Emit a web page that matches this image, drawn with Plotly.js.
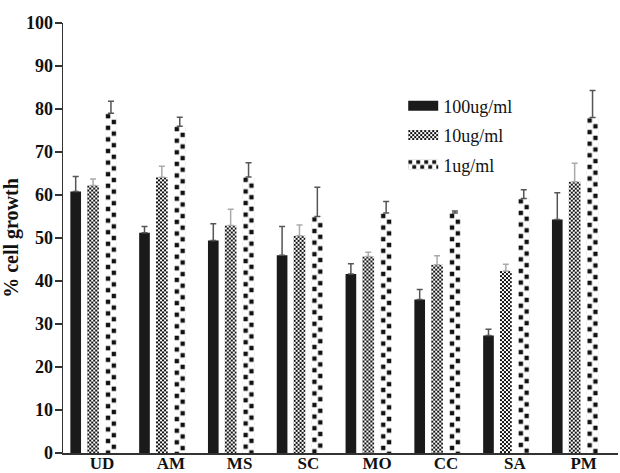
<!DOCTYPE html>
<html>
<head>
<meta charset="utf-8">
<script src="https://cdn.plot.ly/plotly-3.0.1.min.js"></script>
<style>html,body{margin:0;padding:0;background:#fff;}#chart{width:620px;height:473px;}</style>
</head>
<body>
<div id="chart"></div>
<script>
var categories = ["UD", "AM", "MS", "SC", "MO", "CC", "SA", "PM"];
var seriesNames = ["100ug/ml", "10ug/ml", "1ug/ml"];
var growth100 = [60.8, 51.2, 49.4, 46.0, 41.6, 35.7, 27.3, 54.3];
var err100    = [3.5, 1.5, 3.9, 6.7, 2.4, 2.3, 1.5, 6.2];
var growth10  = [62.2, 64.1, 52.9, 50.5, 45.7, 43.8, 42.3, 63.1];
var err10     = [1.5, 2.6, 3.8, 2.5, 1.0, 2.1, 1.6, 4.3];
var growth1   = [79.0, 76.0, 64.2, 55.0, 55.8, 55.8, 59.2, 78.0];
var err1      = [2.8, 2.1, 3.3, 6.8, 2.7, 0.5, 2.0, 6.3];
var yTicks = [0, 10, 20, 30, 40, 50, 60, 70, 80, 90, 100];

var serif = "Liberation Serif, Times New Roman, serif";
function zeros(a){ return a.map(function(){ return 0; }); }

function makeTrace(name, vals, errs, offset, width, marker, errColor){
  return {
    type: "bar", name: name, legendgroup: name, x: categories, y: vals,
    offset: offset, width: width,
    marker: marker,
    error_y: {type: "data", symmetric: false, array: errs, arrayminus: zeros(errs),
              color: errColor, thickness: 1.5, width: 3},
    hoverinfo: "skip"
  };
}

var traces = [
  makeTrace(seriesNames[0], growth100, err100, -0.46, 0.155,
    {color: "#1a1a1a", line: {width: 0}}, "#555"),
  makeTrace(seriesNames[1], growth10, err10, -0.215, 0.17,
    {color: "#ffffff", line: {width: 0},
     pattern: {shape: "x", size: 4, solidity: 0.5, fgcolor: "#111", bgcolor: "#fff"}}, "#aaa"),
  makeTrace(seriesNames[2], growth1, err1, 0.045, 0.17,
    {color: "#ffffff", line: {width: 0},
     pattern: {shape: ".", size: 6, solidity: 0.5, fgcolor: "#111", bgcolor: "#fff"}}, "#555")
];

var layout = {
  width: 620, height: 473,
  margin: {l: 63, r: 2, t: 23, b: 20},
  paper_bgcolor: "#fff", plot_bgcolor: "#fff",
  barmode: "overlay",
  showlegend: true,
  legend: {x: 0.613, y: 0.85, xanchor: "left", yanchor: "top", tracegroupgap: 3,
           bgcolor: "rgba(0,0,0,0)", font: {family: serif, size: 18, color: "#111"}},
  xaxis: {
    type: "category", range: [-0.567, 7.5],
    showline: true, linecolor: "#333", linewidth: 1.5,
    ticks: "", showgrid: false, zeroline: false, ticklabelstandoff: -6,
    tickfont: {family: serif, size: 17, color: "#111", weight: "bold"}
  },
  yaxis: {
    range: [0, 100], tickvals: yTicks,
    showline: true, linecolor: "#333", linewidth: 1.5,
    ticks: "outside", ticklen: 7, tickwidth: 1.5, tickcolor: "#333",
    showgrid: false, zeroline: false, ticklabelstandoff: -2,
    tickfont: {family: serif, size: 18, color: "#111", weight: "bold"},
    title: {text: "% cell growth", font: {family: serif, size: 20, color: "#111", weight: "bold"}}
  }
};

function restyleFills(gd){
  var svgNS = "http://www.w3.org/2000/svg";
  var defs = gd.querySelector("defs");
  if(!defs) return;
  var counter = 0;
  function makePattern(box, cell, sq, fine){
    var id = "chk-" + (counter++);
    var p = document.createElementNS(svgNS, "pattern");
    p.setAttribute("id", id);
    p.setAttribute("patternUnits", "userSpaceOnUse");
    var w = fine ? 2 * cell : box.width;
    p.setAttribute("x", box.x);
    p.setAttribute("y", box.y);
    p.setAttribute("width", w);
    p.setAttribute("height", 2 * cell);
    var bg = document.createElementNS(svgNS, "rect");
    bg.setAttribute("width", w); bg.setAttribute("height", 2 * cell); bg.setAttribute("fill", "#fff");
    p.appendChild(bg);
    var half = fine ? cell : w / 2;
    var m = (cell - sq) / 2;
    [[0, 0], [1, 1]].forEach(function(c){
      var r = document.createElementNS(svgNS, "rect");
      r.setAttribute("x", c[0] * half + (fine ? 0 : (half - sq) / 2));
      r.setAttribute("y", c[1] * cell + m);
      r.setAttribute("width", sq); r.setAttribute("height", sq);
      r.setAttribute("fill", "#111");
      p.appendChild(r);
    });
    defs.appendChild(p);
    return id;
  }
  var barTraces = gd.querySelectorAll(".barlayer .trace");
  [[1, 2, 2, true], [2, 5.8, 4.4, false]].forEach(function(spec){
    var tr = barTraces[spec[0]];
    if(!tr) return;
    tr.querySelectorAll(".point path").forEach(function(path){
      var b = path.getBBox();
      var id = makePattern(b, spec[1], spec[2], spec[3]);
      path.style.fill = "url(#" + id + ")";
    });
  });
  var legendTraces = gd.querySelectorAll(".legend .traces");
  legendTraces.forEach(function(lt, k){
    var path = lt.querySelector(".legendpoints path");
    if(!path) return;
    path.setAttribute("d", "M15,5H-15V-5H15Z");
    if(k === 1 || k === 2){
      var b = path.getBBox();
      var id = k === 1 ? makePattern(b, 2, 2, true) : makePattern({x: b.x, y: b.y, width: 8}, 5, 3.8, false);
      if(k === 2){
        var pat = document.getElementById(id);
        pat.setAttribute("width", 8);
        pat.setAttribute("height", 10);
      }
      path.style.fill = "url(#" + id + ")";
      path.style.stroke = "none";
    }
  });
}

Plotly.newPlot("chart", traces, layout, {displayModeBar: false, staticPlot: true}).then(function(gd){
  try { restyleFills(gd); } catch(e) { console.log(e); }
});
</script>
</body>
</html>
